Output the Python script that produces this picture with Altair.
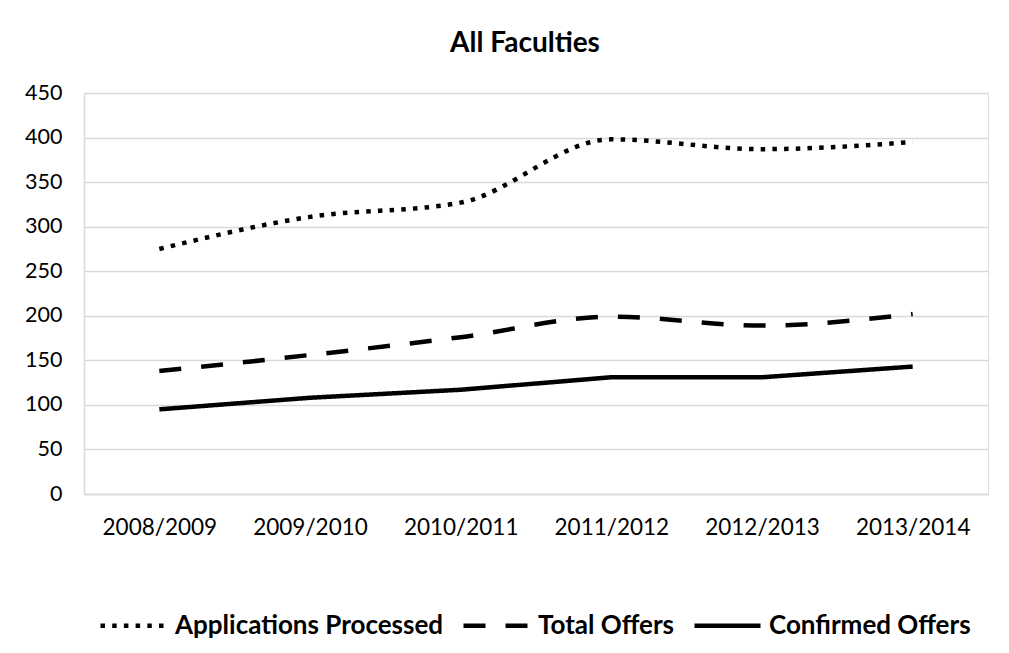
import altair as alt
import pandas as pd

years = ["2008/2009", "2009/2010", "2010/2011", "2011/2012", "2012/2013", "2013/2014"]
applications = [275, 311, 327, 398, 387, 395]
total_offers = [138, 156, 176, 199, 189, 202]
confirmed = [95, 108, 117, 131, 131, 143]

series_names = ["Applications Processed", "Total Offers", "Confirmed Offers"]
series_values = [applications, total_offers, confirmed]
dashes = [[4.5, 7.2], [22, 20], [1, 0]]
interps = ["monotone", "monotone", "linear"]

rows = []
for name, vals in zip(series_names, series_values):
    for y, v in zip(years, vals):
        rows.append({"Year": y, "Series": name, "Value": v})
df = pd.DataFrame(rows)

FONT = "Lato"

x_enc = alt.X("Year:O", sort=years,
              scale=alt.Scale(type="point", padding=0.5),
              axis=alt.Axis(title=None, labelAngle=0, labelFontSize=22.5, labelFont=FONT,
                            labelColor="#000000", labelPadding=22, ticks=False,
                            domain=True, domainColor="#d9d9d9", domainWidth=1.5,
                            grid=False))
y_enc = alt.Y("Value:Q",
              scale=alt.Scale(domain=[0, 450], nice=False),
              axis=alt.Axis(title=None, values=list(range(0, 451, 50)), labelFontSize=21.5,
                            labelFont=FONT, labelColor="#000000", labelPadding=22,
                            ticks=False, domain=True, domainColor="#d9d9d9",
                            domainWidth=1.5, grid=True, gridColor="#d9d9d9",
                            gridWidth=1.5))
dash_enc = alt.StrokeDash(
    "Series:N",
    scale=alt.Scale(domain=series_names, range=dashes),
    legend=alt.Legend(title=None, orient="none", direction="horizontal",
                      legendX=14, legendY=497,
                      labelFont=FONT, labelFontSize=26, labelFontWeight="bold",
                      labelColor="#000000", symbolType="stroke", symbolSize=4356,
                      symbolStrokeWidth=4.5, symbolStrokeColor="#000000",
                      labelOffset=6, columnPadding=10, labelLimit=400),
)

layers = []
for name, ip in zip(series_names, interps):
    layers.append(
        alt.Chart(df).transform_filter(alt.datum.Series == name)
        .mark_line(color="#000000", strokeWidth=4.5, interpolate=ip)
        .encode(x=x_enc, y=y_enc, strokeDash=dash_enc)
    )

chart = alt.layer(*layers).properties(
    width=904, height=401,
    title=alt.TitleParams("All Faculties", font=FONT, fontSize=28, fontWeight="bold",
                          color="#000000", anchor="middle", offset=24, dx=-11),
    autosize=alt.AutoSizeParams(type="none"),
    padding={"left": 76, "top": 85, "right": 13, "bottom": 145},
).configure_view(stroke=None).configure(background="#ffffff")

chart.save("out.html", embed_options={"renderer": "svg", "actions": False})
